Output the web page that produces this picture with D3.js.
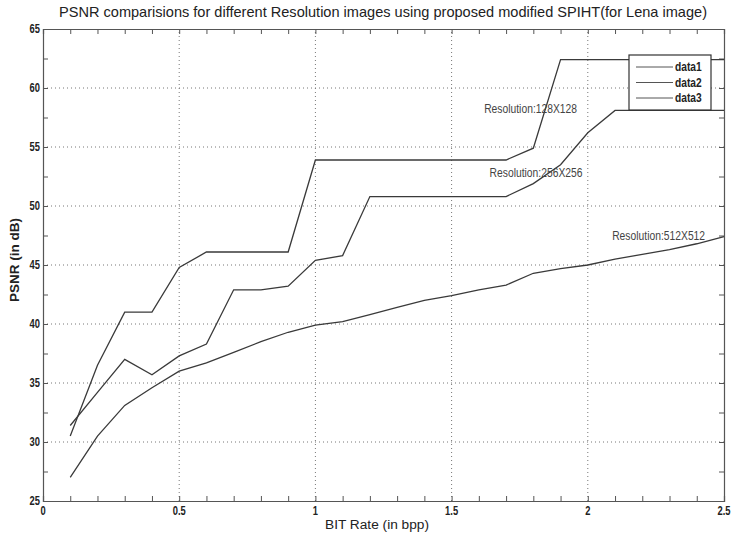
<!DOCTYPE html>
<html>
<head>
<meta charset="utf-8">
<script src="https://cdn.jsdelivr.net/npm/d3@7"></script>
<style>
  body { margin: 0; background: #fff; }
  svg text { font-family: "Liberation Sans", Arial, sans-serif; fill: #222; }
  .grid line { stroke: #777; stroke-dasharray: 1 3; stroke-width: 1; }
  .series { fill: none; stroke: #3a3a3a; stroke-width: 1.3; }
</style>
</head>
<body>
<svg id="chart" width="732" height="533"></svg>
<script>
"use strict";

// bit rates (bpp)
const bitRates = [0.1, 0.2, 0.3, 0.4, 0.5, 0.6, 0.7, 0.8, 0.9, 1.0, 1.1, 1.2, 1.3,
	1.4, 1.5, 1.6, 1.7, 1.8, 1.9, 2.0, 2.1, 2.2, 2.3, 2.4, 2.5];
// PSNR for 128x128
const psnr128 = [30.5, 36.5, 41.0, 41.0, 44.8, 46.1, 46.1, 46.1, 46.1, 53.9, 53.9, 53.9, 53.9,
	53.9, 53.9, 53.9, 53.9, 54.9, 62.4, 62.4, 62.4, 62.4, 62.4, 62.4, 62.4];
// PSNR for 256x256
const psnr256 = [31.4, 34.2, 37.0, 35.7, 37.3, 38.3, 42.9, 42.9, 43.2, 45.4, 45.8, 50.8, 50.8,
	50.8, 50.8, 50.8, 50.8, 51.9, 53.5, 56.2, 58.1, 58.1, 58.1, 58.1, 58.1];
// PSNR for 512x512
const psnr512 = [27.0, 30.5, 33.1, 34.6, 36.0, 36.7, 37.6, 38.5, 39.3, 39.9, 40.2, 40.8, 41.4,
	42.0, 42.4, 42.9, 43.3, 44.3, 44.7, 45.0, 45.5, 45.9, 46.3, 46.8, 47.4];

const seriesNames = ["data1", "data2", "data3"];
const annotations = [
	{text: "Resolution:128X128", x: 1.79, y: 57.9},
	{text: "Resolution:256X256", x: 1.81, y: 52.5},
	{text: "Resolution:512X512", x: 2.26, y: 47.1}
];
const xTicks = [0, 0.5, 1, 1.5, 2, 2.5];
const yTicks = [25, 30, 35, 40, 45, 50, 55, 60, 65];

const margin = {left: 43, right: 8, top: 29, bottom: 32};
const W = 732, H = 533;
const svg = d3.select("#chart");

const x = d3.scaleLinear().domain([0, 2.5]).range([margin.left, W - margin.right]);
const y = d3.scaleLinear().domain([25, 65]).range([H - margin.bottom, margin.top]);

// grid
const grid = svg.append("g").classed("grid", true);
grid.selectAll(".gx").data(xTicks.slice(1, -1)).enter().append("line")
	.attr("x1", d => x(d)).attr("x2", d => x(d))
	.attr("y1", y(25)).attr("y2", y(65));
grid.selectAll(".gy").data(yTicks.slice(1, -1)).enter().append("line")
	.attr("y1", d => y(d)).attr("y2", d => y(d))
	.attr("x1", x(0)).attr("x2", x(2.5));

// axes, ticks inward like matlab
const minorX = d3.range(0, 26).map(i => i / 10);
const minorY = d3.range(0, 17).map(i => 25 + i * 2.5);

function frameAxis(axis, pos, vals, size) {
	return svg.append("g")
		.attr("transform", pos)
		.call(axis.tickValues(vals).tickSize(size).tickFormat(""))
		.call(g => g.select(".domain").attr("stroke", "#555").attr("stroke-width", 1.2))
		.call(g => g.selectAll(".tick line").attr("stroke", "#555"));
}
frameAxis(d3.axisBottom(x), `translate(0,${y(25)})`, minorX, -5);
frameAxis(d3.axisTop(x), `translate(0,${y(65)})`, minorX, -5);
frameAxis(d3.axisLeft(y), `translate(${x(0)},0)`, minorY, -5);
frameAxis(d3.axisRight(y), `translate(${x(2.5)},0)`, minorY, -5);

// narrow font is not available, so squeeze the glyphs a bit
const squeeze = 0.78;

// tick labels
svg.append("g").selectAll("text").data(xTicks).enter().append("text")
	.attr("transform", d => `translate(${x(d)},${y(25) + 14}) scale(${squeeze},1)`)
	.attr("text-anchor", "middle")
	.style("font-size", "12px").style("font-weight", "bold")
	.text(d => d);
svg.append("g").selectAll("text").data(yTicks).enter().append("text")
	.attr("transform", d => `translate(${x(0) - 3},${y(d) + 4}) scale(${squeeze},1)`)
	.attr("text-anchor", "end")
	.style("font-size", "12px").style("font-weight", "bold")
	.text(d => d);

// lines
const allSeries = [psnr128, psnr256, psnr512];
const line = d3.line().x((d, i) => x(bitRates[i])).y(d => y(d));
svg.append("g").selectAll("path").data(allSeries).enter().append("path")
	.classed("series", true)
	.attr("d", line);

// annotations
svg.append("g").selectAll("text").data(annotations).enter().append("text")
	.attr("transform", d => `translate(${x(d.x)},${y(d.y)}) scale(0.86,1)`)
	.attr("text-anchor", "middle")
	.style("font-size", "12px").style("fill", "#444")
	.text(d => d.text);

// legend
const leg = svg.append("g").attr("transform", "translate(629,55)");
leg.append("rect").attr("width", 82).attr("height", 55)
	.attr("fill", "#fff").attr("stroke", "#333").attr("stroke-width", 1.2);
seriesNames.forEach((name, i) => {
	leg.append("line").attr("x1", 7).attr("x2", 44)
		.attr("y1", 12 + i * 15.5).attr("y2", 12 + i * 15.5)
		.attr("stroke", "#555").attr("stroke-width", 1);
	leg.append("text").attr("transform", `translate(46,${16 + i * 15.5}) scale(0.85,1)`)
		.style("font-size", "12px").style("font-weight", "bold")
		.text(name);
});

// title and axis labels
svg.append("text").attr("x", 383).attr("y", 17).attr("text-anchor", "middle")
	.attr("textLength", 648).attr("lengthAdjust", "spacingAndGlyphs")
	.style("font-size", "15px")
	.text("PSNR comparisions for different Resolution images using proposed  modified SPIHT(for Lena image)");
svg.append("text").attr("x", 377).attr("y", 529).attr("text-anchor", "middle")
	.attr("textLength", 104).attr("lengthAdjust", "spacingAndGlyphs")
	.style("font-size", "12px")
	.text("BIT Rate (in bpp)");
svg.append("text").attr("transform", "translate(19,260) rotate(-90)")
	.attr("text-anchor", "middle")
	.attr("textLength", 84).attr("lengthAdjust", "spacingAndGlyphs")
	.style("font-size", "12px").style("font-weight", "bold")
	.text("PSNR (in dB)");
</script>
</body>
</html>
